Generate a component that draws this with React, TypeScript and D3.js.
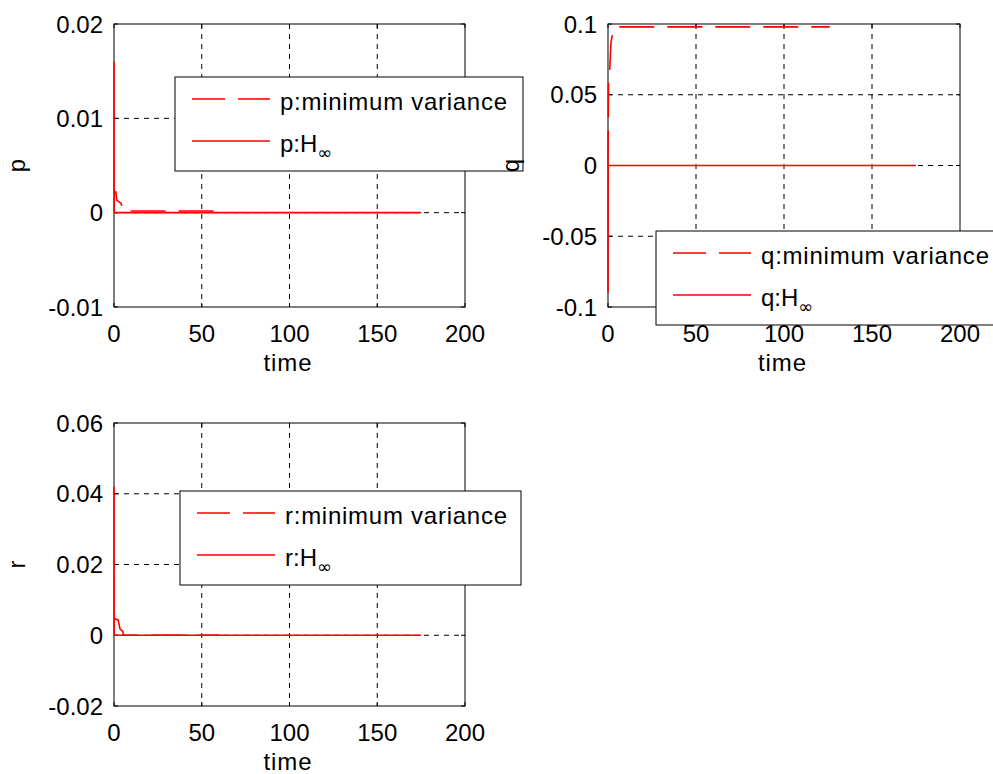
import React from "react";
import * as d3 from "d3";

// ---- data ----
const xTicks = [0, 50, 100, 150, 200];

const pTicks = [-0.01, 0, 0.01, 0.02];
const pTickLabels = ["-0.01", "0", "0.01", "0.02"];
const qTicks = [-0.1, -0.05, 0, 0.05, 0.1];
const qTickLabels = ["-0.1", "-0.05", "0", "0.05", "0.1"];
const rTicks = [-0.02, 0, 0.02, 0.04, 0.06];
const rTickLabels = ["-0.02", "0", "0.02", "0.04", "0.06"];

// p component
const pHinfTime = [0, 0.1, 175];
const pHinfValue = [0.016, 0, 0];
const pMinVarTime = [0, 1, 1.6, 4, 5.2, 60];
const pMinVarValue = [0.0022, 0.0022, 0.0013, 0.001, 0.00017, 0.00017];

// q component
const qHinfTime = [0, 0.1, 175];
const qHinfValue = [-0.09, 0, 0];
const qMinVarTime = [0, 0.3, 1, 1.7, 2.7, 4, 126];
const qMinVarValue = [0, 0.067, 0.068, 0.087, 0.094, 0.098, 0.098];

// r component
const rHinfTime = [0, 0.1, 175];
const rHinfValue = [0.042, 0, 0];
const rMinVarTime = [0, 2.3, 3.4, 5.1, 5.3, 60];
const rMinVarValue = [0.0047, 0.0044, 0.0018, 0.001, 0, 0];

const FONT = "'Liberation Sans', Arial, Helvetica, sans-serif";
const FS = 24;
const RED = "#ff0000";
const GRID_DASH = "5,5";
const LINE_DASH = "35,13";

const zip = (t: number[], v: number[]) => t.map((d, i) => [d, v[i]] as [number, number]);

type PanelProps = {
  x0: number; x1: number; y0: number; y1: number;
  yDomain: [number, number];
  yTicks: number[]; yTickLabels: string[];
  ylabel: string;
  hinf: [number, number][];
  minvar: [number, number][];
  dashOffset?: number;
  showYLabel?: boolean;
};

function Panel(p: PanelProps) {
  const x = d3.scaleLinear().domain([0, 200]).range([p.x0, p.x1]);
  const y = d3.scaleLinear().domain(p.yDomain).range([p.y1, p.y0]);
  const line = d3.line<[number, number]>().x((d) => x(d[0])).y((d) => y(d[1]));
  const innerX = xTicks.slice(1, -1);
  const innerY = p.yTicks.slice(1, -1);
  const tick = 4;
  return (
    <g>
      {/* grid */}
      {innerX.map((t) => (
        <line key={"gx" + t} x1={x(t)} x2={x(t)} y1={p.y0} y2={p.y1} stroke="#000" strokeDasharray={GRID_DASH} />
      ))}
      {innerY.map((t) => (
        <line key={"gy" + t} x1={p.x0} x2={p.x1} y1={y(t)} y2={y(t)} stroke="#000" strokeDasharray={GRID_DASH} />
      ))}
      {/* box */}
      <rect x={p.x0} y={p.y0} width={p.x1 - p.x0} height={p.y1 - p.y0} fill="none" stroke="#000" />
      {/* ticks */}
      {xTicks.map((t) => (
        <g key={"tx" + t}>
          <line x1={x(t)} x2={x(t)} y1={p.y1} y2={p.y1 - tick} stroke="#000" />
          <line x1={x(t)} x2={x(t)} y1={p.y0} y2={p.y0 + tick} stroke="#000" />
        </g>
      ))}
      {p.yTicks.map((t) => (
        <g key={"ty" + t}>
          <line x1={p.x0} x2={p.x0 + tick} y1={y(t)} y2={y(t)} stroke="#000" />
          <line x1={p.x1} x2={p.x1 - tick} y1={y(t)} y2={y(t)} stroke="#000" />
        </g>
      ))}
      {/* data */}
      <path d={line(p.hinf) || ""} fill="none" stroke={RED} strokeWidth={1.6} />
      <path d={line(p.minvar) || ""} fill="none" stroke={RED} strokeWidth={1.6}
        strokeDasharray={LINE_DASH} strokeDashoffset={p.dashOffset || 0} />
      {/* tick labels */}
      {xTicks.map((t) => (
        <text key={"lx" + t} x={x(t)} y={p.y1 + 35} textAnchor="middle" fontSize={FS} fontFamily={FONT} fill="#000">{t}</text>
      ))}
      {p.yTicks.map((t, i) => (
        <text key={"ly" + t} x={p.x0 - 11} y={y(t) + 8.5} textAnchor="end" fontSize={FS} fontFamily={FONT} fill="#000">{p.yTickLabels[i]}</text>
      ))}
      <text x={(p.x0 + p.x1) / 2 - 2} y={p.y1 + 64} textAnchor="middle" fontSize={FS} fontFamily={FONT} fill="#000" textLength={48} lengthAdjust="spacing">time</text>
      {p.showYLabel !== false && (
        <text transform={`translate(${p.x0 - 89},${(p.y0 + p.y1) / 2}) rotate(-90)`} textAnchor="middle" fontSize={FS} fontFamily={FONT} fill="#000">{p.ylabel}</text>
      )}
    </g>
  );
}

function Legend({ x, y, w, name, textLen }: { x: number; y: number; w: number; name: string; textLen: number }) {
  return (
    <g>
      <rect x={x} y={y} width={w} height={94} fill="#fff" stroke="#000" />
      <line x1={x + 17} x2={x + 95} y1={y + 22} y2={y + 22} stroke={RED} strokeWidth={1.6} strokeDasharray="33,13" />
      <text x={x + 105} y={y + 33} fontSize={FS} fontFamily={FONT} fill="#000" textLength={textLen} lengthAdjust="spacing">{name}:minimum variance</text>
      <line x1={x + 17} x2={x + 95} y1={y + 64} y2={y + 64} stroke={RED} strokeWidth={1.6} />
      <text x={x + 105} y={y + 75} fontSize={FS} fontFamily={FONT} fill="#000">
        {name}:H<tspan fontSize={18} dy={7} fontFamily="'DejaVu Sans', sans-serif">∞</tspan>
      </text>
    </g>
  );
}

export default function App() {
  const P1 = { x0: 114, x1: 465, y0: 24, y1: 307 };
  const P2 = { x0: 608, x1: 960, y0: 24, y1: 307 };
  const P3 = { x0: 114, x1: 465, y0: 423, y1: 706 };
  return (
    <div style={{ position: "absolute", left: 0, top: 0 }}>
      <svg width={993} height={774} style={{ display: "block", background: "#fff" }}>
        <Panel {...P1} yDomain={[-0.01, 0.02]} yTicks={pTicks} yTickLabels={pTickLabels} ylabel="p"
          hinf={zip(pHinfTime, pHinfValue)} minvar={zip(pMinVarTime, pMinVarValue)} dashOffset={17} />
        <Panel {...P2} yDomain={[-0.1, 0.1]} yTicks={qTicks} yTickLabels={qTickLabels} ylabel="q" showYLabel={false}
          hinf={zip(qHinfTime, qHinfValue)} minvar={zip(qMinVarTime, qMinVarValue)} />
        <Panel {...P3} yDomain={[-0.02, 0.06]} yTicks={rTicks} yTickLabels={rTickLabels} ylabel="r"
          hinf={zip(rHinfTime, rHinfValue)} minvar={zip(rMinVarTime, rMinVarValue)} />
        <Legend x={175} y={77} w={348} name="p" textLen={227} />
        <Legend x={656} y={231} w={348} name="q" textLen={228} />
        <Legend x={180} y={491} w={341} name="r" textLen={222} />
        {/* y label of the q axes sits over the p legend */}
        <text transform={`translate(${P2.x0 - 89},${(P2.y0 + P2.y1) / 2}) rotate(-90)`} textAnchor="middle"
          fontSize={FS} fontFamily={FONT} fill="#000">q</text>
      </svg>
    </div>
  );
}
